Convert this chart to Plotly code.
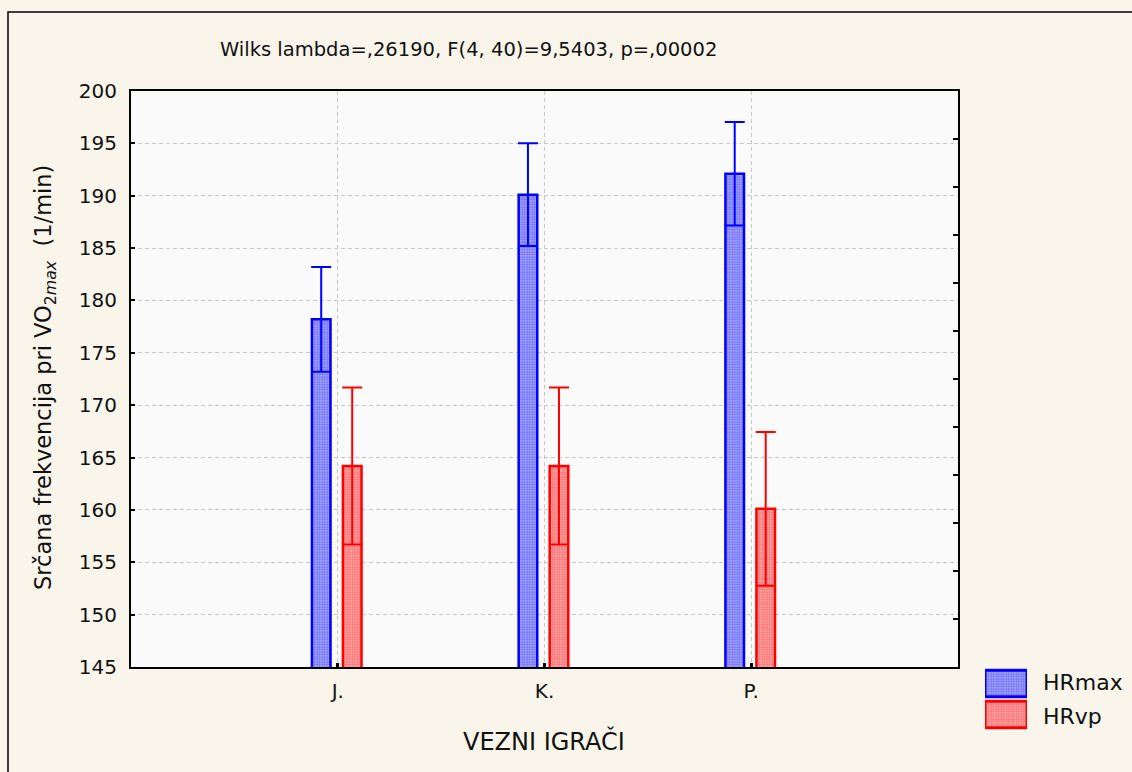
import plotly.graph_objects as go

categories = ["J.", "K.", "P."]
hrmax_mean = [178.2, 190.1, 192.1]
hrmax_sd = [5.0, 4.9, 4.95]
hrvp_mean = [164.2, 164.2, 160.1]
hrvp_sd = [7.5, 7.5, 7.35]
y_ticks = [145, 150, 155, 160, 165, 170, 175, 180, 185, 190, 195, 200]
legend_names = ["HRvp", "HRmax"]
legend_fill = [1, 1]

FONT = "DejaVu Sans, Liberation Sans, Arial, sans-serif"
BLUE = "#0000FF"
RED = "#FF0000"

# layout geometry (pixels)
W, H = 1132, 772
ML, MR, MT, MB = 131, 0, 91, 30
AW = W - ML - MR
AH = H - MT - MB
plot_right = 958
plot_bottom = 667


def px_x(p):
    return (p - ML) / AW


def px_y(p):
    return (H - MB - p) / AH


xpos = list(range(len(categories)))

fig = go.Figure()

pat = dict(shape=".", size=2.5, solidity=0.75)

fig.add_trace(go.Bar(
    x=xpos, y=hrmax_mean, name="HRmax", width=0.09, offset=-0.125,
    marker=dict(color="white", line=dict(color=BLUE, width=2.5),
                pattern=dict(fgcolor=BLUE, bgcolor="#DCDCFF", **pat)),
    error_y=dict(type="data", array=hrmax_sd, visible=True, color=BLUE, thickness=2, width=10),
    showlegend=False, xaxis="x", yaxis="y",
))
fig.add_trace(go.Bar(
    x=xpos, y=hrvp_mean, name="HRvp", width=0.09, offset=0.025,
    marker=dict(color="white", line=dict(color=RED, width=2.5),
                pattern=dict(fgcolor=RED, bgcolor="#FFDCDC", **pat)),
    error_y=dict(type="data", array=hrvp_sd, visible=True, color=RED, thickness=2, width=10),
    showlegend=False, xaxis="x", yaxis="y",
))

# legend swatches
fig.add_trace(go.Bar(
    x=legend_fill, y=legend_names, orientation="h", width=0.86,
    marker=dict(color="white", line=dict(color=[RED, BLUE], width=3),
                pattern=dict(fgcolor=[RED, BLUE], bgcolor=["#FFDCDC", "#DCDCFF"], **pat)),
    showlegend=False, xaxis="x2", yaxis="y2", hoverinfo="skip",
))

# invisible trace for right-side mirror ticks axis
fig.add_trace(go.Scatter(x=[None], y=[None], xaxis="x", yaxis="y3", showlegend=False))

main_dom_x = [0, px_x(plot_right)]
main_dom_y = [px_y(plot_bottom), 1]

fig.update_layout(
    width=W, height=H,
    margin=dict(l=ML, r=MR, t=MT, b=MB),
    paper_bgcolor="#F9F5EA",
    plot_bgcolor="#FAFAFA",
    font=dict(family=FONT, size=20, color="#111111"),
    barmode="overlay",
    xaxis=dict(
        domain=main_dom_x, range=[-1, 3], tickmode="array", tickvals=xpos, ticktext=categories,
        showgrid=True, gridcolor="#C8C8C8", griddash="4px,3px", gridwidth=1,
        showline=True, linecolor="black", linewidth=2, mirror=True,
        ticks="inside", ticklen=4, tickwidth=3, tickcolor="black",
        tickfont=dict(size=20), ticklabelstandoff=5, zeroline=False, anchor="y",
    ),
    yaxis=dict(
        domain=main_dom_y, range=[145, 200], tickmode="array", tickvals=y_ticks,
        showgrid=True, gridcolor="#C8C8C8", griddash="4px,3px", gridwidth=1,
        showline=True, linecolor="black", linewidth=2, mirror=True,
        ticks="inside", ticklen=4, tickwidth=2, tickcolor="black",
        tickfont=dict(size=20), ticklabelstandoff=8, zeroline=False, anchor="x",
    ),
    yaxis3=dict(
        overlaying="y", side="right", anchor="x", range=[0, 12], dtick=1, tick0=0,
        showgrid=False, showticklabels=False, ticks="inside", ticklen=5, tickwidth=2,
        tickcolor="black", zeroline=False, showline=False,
    ),
    xaxis2=dict(
        domain=[px_x(985), px_x(1027)], range=[0, 1], visible=False, anchor="y2",
    ),
    yaxis2=dict(
        domain=[px_y(730), px_y(668)], visible=False, anchor="x2", type="category",
        categoryorder="array", categoryarray=legend_names,
    ),
    shapes=[dict(type="rect", xref="paper", yref="paper",
                 x0=px_x(8), x1=px_x(1200), y0=px_y(800), y1=px_y(12),
                 line=dict(color="black", width=1.5), fillcolor="rgba(0,0,0,0)", layer="below")],
    annotations=[
        dict(text="Wilks lambda=,26190, F(4, 40)=9,5403, p=,00002", xref="paper", yref="paper",
             x=px_x(468), y=px_y(49), xanchor="center", yanchor="middle", showarrow=False,
             font=dict(size=19.5)),
        dict(text="Srčana frekvencija pri VO<sub>2<i>max</i></sub>  (1/min)", xref="paper", yref="paper",
             x=px_x(45), y=px_y(378), xanchor="center", yanchor="middle", textangle=-90,
             showarrow=False, font=dict(size=22.5)),
        dict(text="VEZNI IGRAČI", xref="paper", yref="paper",
             x=px_x(544), y=px_y(741), xanchor="center", yanchor="middle", showarrow=False,
             font=dict(size=24)),
        dict(text="HRmax", xref="paper", yref="paper", x=px_x(1041), y=px_y(682),
             xanchor="left", yanchor="middle", showarrow=False, font=dict(size=22)),
        dict(text="HRvp", xref="paper", yref="paper", x=px_x(1041), y=px_y(716),
             xanchor="left", yanchor="middle", showarrow=False, font=dict(size=22)),
    ],
)

fig.write_html("out.html", config={"displayModeBar": False},
               post_script="document.body.style.margin='0px';document.body.style.overflow='hidden';")
